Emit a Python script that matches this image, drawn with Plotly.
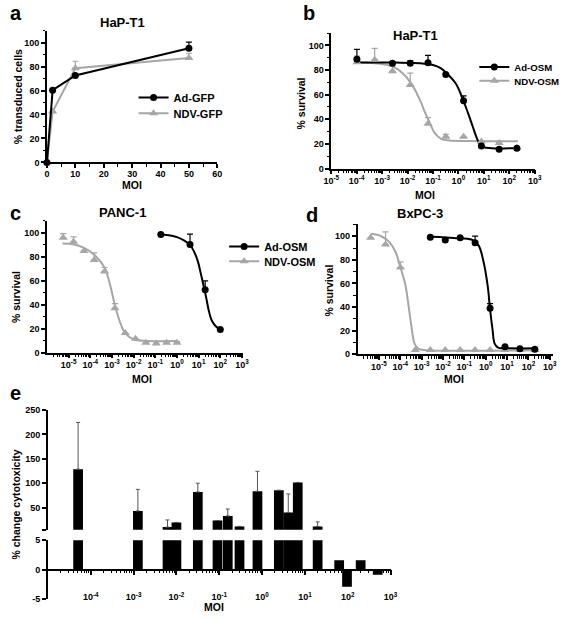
import numpy as np
import plotly.graph_objects as go

W, H = 567, 620
FONT = "Liberation Sans"
GRAY = "#a6a6a6"


def fx(px):
    return px / W


def fy(py):
    return 1 - py / H


# ---------------- data ----------------
# panel a (linear MOI)
a_moi = [0, 2, 10, 50]
a_ad = [0, 60.3, 72.6, 95.3]
a_ad_err = [0, 0, 1, 5]
a_ndv = [0, 42.5, 78.6, 87.1]
a_ndv_err = [0, 0, 5.8, 4]

# panel b (HaP-T1)
b_ad_moi = [1.024e-4, 2.56e-3, 0.0128, 0.064, 0.32, 1.6, 8, 40, 200]
b_ad = [88.8, 85.4, 85.4, 85.9, 76.3, 55.0, 18.4, 15.7, 16.5]
b_ad_err = [8, 1, 2, 6, 0, 4, 0, 0, 0]
b_ndv_moi = [1.024e-4, 5.12e-4, 2.56e-3, 0.0128, 0.064, 0.32, 1.6, 8, 40, 200]
b_ndv = [86.2, 88.3, 79.0, 67.8, 36.4, 25.8, 25.8, 22.0, 20.7, 17.0]
b_ndv_err = [5, 9.3, 4, 9.6, 5, 2, 0, 0, 1, 0]
b_ad_fit_moi = [1.12e-4, 3.2e-3, 0.032, 0.1, 0.2, 0.34, 0.79, 1.58, 2.4, 3.55, 5.25, 7.1, 10, 20, 219]
b_ad_fit = [86, 86, 85.5, 84, 81.5, 77.5, 69, 55, 45, 35, 25, 19.5, 17.3, 16.6, 16.5]
b_ndv_fit_moi = [1.12e-4, 5.0e-4, 1.26e-3, 2.8e-3, 6.3e-3, 0.0141, 0.031, 0.05, 0.071, 0.117, 0.209, 0.437, 2.0, 219]
b_ndv_fit = [86, 85.5, 84.5, 82.5, 77.5, 69, 55.6, 45, 38.3, 29, 24.2, 22.9, 22.4, 22.3]

# panel c (PANC-1)
c_ad_moi = [0.18, 4, 20, 100]
c_ad = [98.6, 90.4, 52.6, 19.2]
c_ad_err = [0, 8.6, 7.4, 0]
c_ndv_moi = [5.65e-6, 1.69e-5, 5.08e-5, 1.52e-4, 4.57e-4, 1.37e-3, 4.12e-3, 0.0123, 0.037, 0.111, 0.333, 1]
c_ndv = [95.9, 92.6, 84.9, 77.3, 67.8, 37.0, 16.4, 11.5, 8.2, 7.7, 8.2, 8.2]
c_ndv_err = [3.6, 4.1, 0, 6, 3.3, 4, 0, 0, 0, 0, 0, 1]
c_ad_fit_moi = [0.18, 0.5, 1.0, 2.0, 4.0, 6.3, 9.3, 12.6, 15.5, 21.9, 29.5, 39.8, 61.7, 102]
c_ad_fit = [98.6, 97.8, 96.5, 94, 90, 84, 76, 66, 59, 46.6, 35, 27, 22, 19.2]
c_ndv_fit_moi = [5.2e-6, 1.6e-5, 4.9e-5, 1.74e-4, 4.6e-4, 8.1e-4, 1.35e-3, 2.29e-3, 3.8e-3, 6.3e-3, 0.0107, 0.042, 1.0]
c_ndv_fit = [91.2, 90.5, 87.7, 80.8, 71, 57, 40, 26, 17, 13, 11, 9.7, 9.6]

# panel d (BxPC-3)
d_ad_moi = [0.00256, 0.0128, 0.064, 0.32, 1.6, 8, 40, 200]
d_ad = [99.2, 96.7, 98.6, 94.4, 38.9, 6.4, 4.7, 4.2]
d_ad_err = [0, 0, 0, 5.6, 4, 0, 0, 0]
d_ndv_moi = [4.096e-6, 2.048e-5, 1.024e-4, 5.12e-4, 0.00256, 0.0128, 0.064, 0.32, 1.6, 8, 40, 200]
d_ndv = [98.6, 93.0, 73.6, 3.6, 3.6, 3.6, 3.6, 3.6, 3.6, 3.6, 3.6, 3.6]
d_ndv_err = [0, 10.6, 4.7, 0, 0, 0, 0, 0, 0, 0, 0, 0]
d_ad_fit_moi = [3.2e-3, 0.032, 0.23, 0.47, 0.78, 1.26, 1.58, 2.09, 2.63, 3.8, 10, 200]
d_ad_fit = [99.5, 98.5, 97, 92, 79, 57, 39, 21, 9, 5.6, 5.1, 5.0]
d_ndv_fit_moi = [4.1e-6, 1.29e-5, 3.1e-5, 6.3e-5, 9.3e-5, 1.32e-4, 1.78e-4, 2.5e-4, 3.5e-4, 4.7e-4, 7.2e-4, 1.74e-3, 200]
d_ndv_fit = [102, 100, 95, 86, 76, 67, 58, 40, 21, 9, 4.5, 3.5, 3.3]

# panel e (% change cytotoxicity)
e_moi = [5.07e-5, 1.26e-3, 6.2e-3, 0.01, 0.0316, 0.091, 0.158, 0.297, 0.78,
         2.46, 4.08, 6.8, 19.8, 63, 96, 200, 500]
e_val = [129, 43.4, 10.3, 19.8, 82.2, 23.8, 33.2, 11.7, 83.6,
         85.6, 40, 101.7, 11.7, 1.6, -2.9, 1.6, -0.83]
e_err = [95.6, 44.2, 14.7, 0, 18, 0, 14.2, 0, 41,
         0, 38.2, 0, 9.3, 0, 0, 0, 0]

# ---------------- figure ----------------
fig = go.Figure()

TF = dict(family=FONT, size=9, color="black", weight="bold")


def ax_common():
    return dict(showline=True, linecolor="black", linewidth=1.5, ticks="outside",
                ticklen=4, tickwidth=1.5, tickcolor="black", showgrid=False,
                zeroline=False, tickfont=TF, fixedrange=True)


def log_axis(dom, rng, exps, anchor):
    d = ax_common()
    minor_vals = [k * 10.0 ** n for n in range(int(np.floor(rng[0])), int(np.ceil(rng[1])))
                  for k in range(2, 10)]
    d.update(domain=dom, type="log", range=rng, anchor=anchor,
             tickvals=[10.0 ** e for e in exps],
             ticktext=[f"10<sup>{e}</sup>" for e in exps],
             ticklabelstandoff=-1,
             minor=dict(tickvals=minor_vals, ticks="outside", ticklen=2.5,
                        tickwidth=1, tickcolor="black"))
    return d


def surv_yaxis(dom, anchor):
    d = ax_common()
    d.update(domain=dom, range=[0, 110], anchor=anchor, tickvals=[0, 20, 40, 60, 80, 100],
             minor=dict(dtick=10, ticks="outside", ticklen=2.5, tickwidth=1, tickcolor="black"))
    return d


def err(arr, color):
    return dict(type="data", array=arr, arrayminus=[0] * len(arr), symmetric=False,
                color=color, thickness=1.2, width=3)


AD_LINE = dict(color="black", width=2)
AD_MARK = dict(symbol="circle", size=7, color="black")
NDV_LINE = dict(color=GRAY, width=2)
NDV_MARK = dict(symbol="triangle-up", size=8, color=GRAY)

# panel a
fig.add_trace(go.Scatter(x=a_moi, y=a_ndv, mode="lines+markers", name="NDV-GFP",
                         line=NDV_LINE, marker=NDV_MARK,
                         error_y=err(a_ndv_err, GRAY), xaxis="x", yaxis="y",
                         legend="legend2", cliponaxis=False))
fig.add_trace(go.Scatter(x=a_moi, y=a_ad, mode="lines+markers", name="Ad-GFP",
                         line=AD_LINE, marker=AD_MARK,
                         error_y=err(a_ad_err, "black"), xaxis="x", yaxis="y",
                         legend="legend", cliponaxis=False))


def osm_panel(xa, ya, lg_ad, lg_ndv, ad_moi, ad, ad_e, ndv_moi, ndv, ndv_e,
              adf_moi, adf, ndvf_moi, ndvf):
    fig.add_trace(go.Scatter(x=ndvf_moi, y=ndvf, mode="lines", line=dict(color=GRAY, width=2, shape="spline"),
                             xaxis=xa, yaxis=ya, showlegend=False, cliponaxis=False))
    fig.add_trace(go.Scatter(x=adf_moi, y=adf, mode="lines", line=dict(color="black", width=2, shape="spline"),
                             xaxis=xa, yaxis=ya, showlegend=False, cliponaxis=False))
    fig.add_trace(go.Scatter(x=ndv_moi, y=ndv, mode="markers", marker=NDV_MARK,
                             error_y=err(ndv_e, GRAY), xaxis=xa, yaxis=ya, showlegend=False,
                             cliponaxis=False))
    fig.add_trace(go.Scatter(x=ad_moi, y=ad, mode="markers", marker=AD_MARK,
                             error_y=err(ad_e, "black"), xaxis=xa, yaxis=ya, showlegend=False,
                             cliponaxis=False))
    if lg_ad:
        fig.add_trace(go.Scatter(x=[None], y=[None], mode="lines+markers", name="Ad-OSM",
                                 line=AD_LINE, marker=AD_MARK, xaxis=xa, yaxis=ya, legend=lg_ad))
        fig.add_trace(go.Scatter(x=[None], y=[None], mode="lines+markers", name="NDV-OSM",
                                 line=NDV_LINE, marker=NDV_MARK, xaxis=xa, yaxis=ya, legend=lg_ndv))


osm_panel("x2", "y2", "legend3", "legend4", b_ad_moi, b_ad, b_ad_err, b_ndv_moi, b_ndv, b_ndv_err,
          b_ad_fit_moi, b_ad_fit, b_ndv_fit_moi, b_ndv_fit)
osm_panel("x3", "y3", "legend5", "legend6", c_ad_moi, c_ad, c_ad_err, c_ndv_moi, c_ndv, c_ndv_err,
          c_ad_fit_moi, c_ad_fit, c_ndv_fit_moi, c_ndv_fit)
osm_panel("x4", "y4", None, None, d_ad_moi, d_ad, d_ad_err, d_ndv_moi, d_ndv, d_ndv_err,
          d_ad_fit_moi, d_ad_fit, d_ndv_fit_moi, d_ndv_fit)

# panel e : broken axis, two segments sharing x
e_x = np.log10(e_moi)
BW = 0.227
fig.add_trace(go.Bar(x=e_x, y=e_val, width=BW, marker=dict(color="black", line=dict(width=0)),
                     error_y=dict(type="data", array=e_err, arrayminus=[0] * len(e_err),
                                  symmetric=False, color="#555555", thickness=1, width=2),
                     xaxis="x5", yaxis="y5", showlegend=False))
fig.add_trace(go.Bar(x=e_x, y=e_val, width=BW, marker=dict(color="black", line=dict(width=0)),
                     xaxis="x5", yaxis="y6", showlegend=False))

# axes
xa = ax_common()
xa.update(domain=[fx(40), fx(215)], range=[0, 60], anchor="y", dtick=10, ticklabelstandoff=-2,
          minor=dict(dtick=5, ticks="outside", ticklen=2.5, tickwidth=1, tickcolor="black"))
ya = surv_yaxis([fy(160), fy(26)], "x")

x2 = log_axis([fx(332), fx(541)], [-5, 3], list(range(-5, 4)), "y2")
y2 = surv_yaxis([fy(166.3), fy(28.5)], "x2")
x3 = log_axis([fx(40), fx(241)], [-6, 3.03], list(range(-5, 4)), "y3")
y3 = surv_yaxis([fy(353.3), fy(219.5)], "x3")
x4 = log_axis([fx(359), fx(560)], [-6, 3.16], list(range(-5, 4)), "y4")
y4 = surv_yaxis([fy(355), fy(223)], "x4")

x5 = ax_common()
x5.update(domain=[fx(41), fx(393)], range=[-5, 3], anchor="free", position=fy(574),
          tickvals=list(range(-4, 4)), ticktext=[f"10<sup>{e}</sup>" for e in range(-4, 4)],
          ticklen=5, ticklabelstandoff=14,
          minor=dict(tickvals=[n + np.log10(k) for n in range(-5, 3) for k in range(2, 10)],
                     ticks="outside", ticklen=3, tickwidth=1, tickcolor="black"))
y5 = ax_common()
y5.update(domain=[fy(533.3), fy(411.7)], range=[5, 250], anchor="x5",
          tickvals=[5, 50, 100, 150, 200, 250], ticktext=["", "50", "100", "150", "200", "250"])
y6 = ax_common()
y6.update(domain=[fy(604), fy(544)], range=[-5, 5], anchor="x5",
          tickvals=[-5, 0, 5], ticktext=["-5", "0", "5"])


def leg(text_x, cy, size):
    return dict(x=fx(text_x - 34), y=fy(cy), xanchor="left", yanchor="middle",
                font=dict(family=FONT, size=size, color="black", weight="bold"),
                bgcolor="rgba(0,0,0,0)", itemwidth=30, itemclick=False)


fig.update_layout(
    width=W, height=H, margin=dict(l=0, r=0, t=0, b=0), autosize=False,
    paper_bgcolor="white", plot_bgcolor="white", barmode="overlay",
    font=dict(family=FONT, color="black"),
    xaxis=xa, yaxis=ya, xaxis2=x2, yaxis2=y2, xaxis3=x3, yaxis3=y3,
    xaxis4=x4, yaxis4=y4, xaxis5=x5, yaxis5=y5, yaxis6=y6,
    legend=leg(163, 94, 11),
    legend2=leg(163, 110, 11),
    legend3=leg(513, 63, 9.6),
    legend4=leg(513, 77, 9.6),
    legend5=leg(256, 245.5, 11),
    legend6=leg(256, 260.5, 11),
)

ann = []


def text(x, y, s, size, angle=0):
    ann.append(dict(x=fx(x), y=fy(y), xref="paper", yref="paper", text=s, showarrow=False,
                    font=dict(family=FONT, size=size, color="black", weight="bold"),
                    textangle=angle, xanchor="center", yanchor="middle"))


# panel letters
text(8, 8, "a", 20)
text(309, 8, "b", 20)
text(8, 211, "c", 20)
text(312, 213, "d", 20)
text(8, 394, "e", 20)
# titles
text(118, 18, "HaP-T1", 13)
text(419, 31, "HaP-T1", 13)
text(118, 211, "PANC-1", 13)
text(423, 212, "BxPC-3", 13)
# axis titles
text(10, 93, "% transduced cells", 10.5, -90)
text(127, 183, "MOI", 10.5)
text(301, 100, "% survival", 10.5, -90)
text(428, 193, "MOI", 10.5)
text(8, 297, "% survival", 10.5, -90)
text(138, 380, "MOI", 10.5)
text(330, 290, "% survival", 10.5, -90)
text(458, 380, "MOI", 10.5)
text(8, 508, "% change cytotoxicity", 10.5, -90)
text(212, 612, "MOI", 10.5)

fig.update_layout(annotations=ann)
fig.write_html("out.html", config={"displayModeBar": False},
               post_script="document.body.style.margin='0';document.body.style.overflow='hidden';")
